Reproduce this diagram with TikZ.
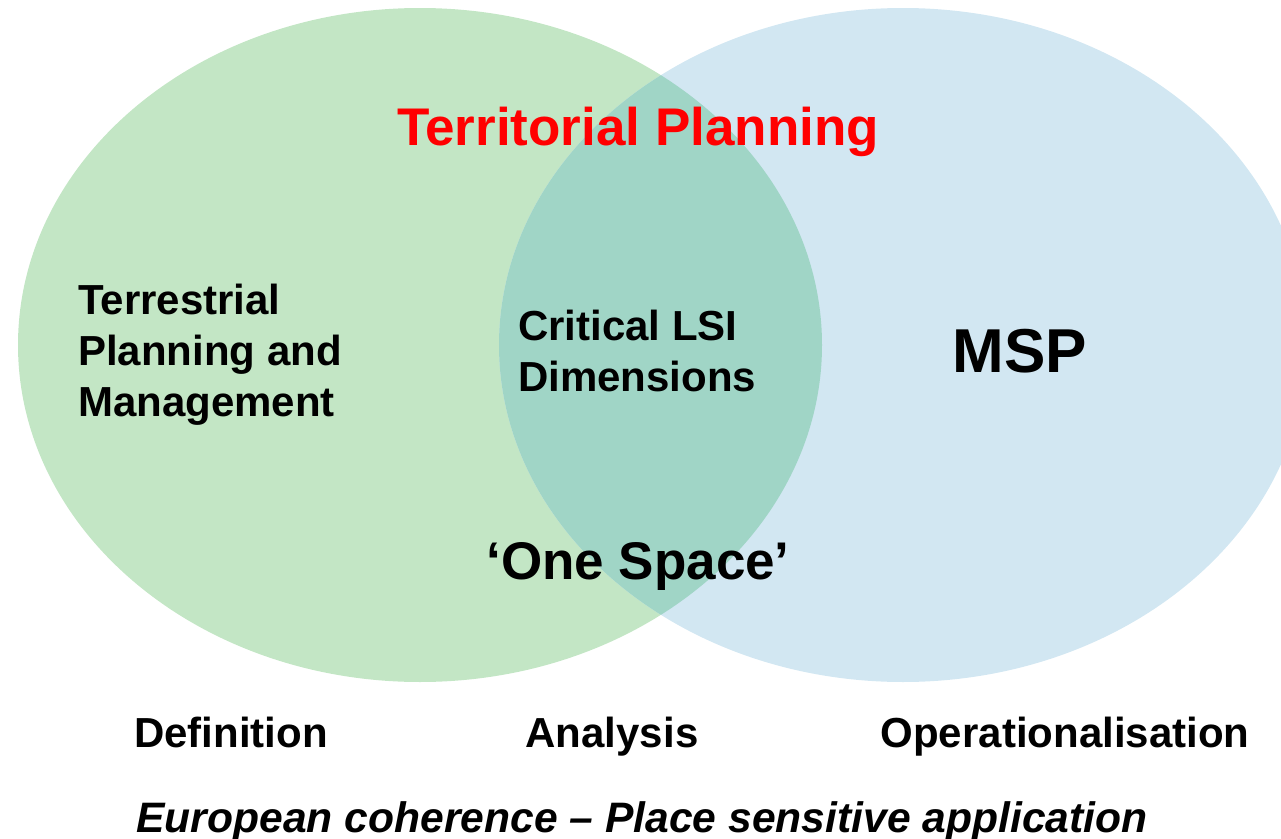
\documentclass[tikz,border=0pt]{standalone}
\usepackage{fontspec}
\setmainfont{Liberation Sans}
\definecolor{landgreen}{HTML}{C3E6C5}
\definecolor{seablue}{HTML}{D2E7F2}
\definecolor{overlapteal}{HTML}{A0D5C6}
\definecolor{titlered}{HTML}{FF0000}
\tikzset{
  lbl/.style={inner sep=0pt, font=\bfseries\fontsize{42bp}{51bp}\selectfont},
  biglbl/.style={inner sep=0pt, font=\bfseries\fontsize{53bp}{64bp}\selectfont},
}
\begin{document}
\begin{tikzpicture}[x=1bp, y=-1bp]
  \useasboundingbox (0,0) rectangle (1281,839);
  \begin{scope}
    \clip (0,0) rectangle (1281,839);
    % the two planning domains
    \fill[landgreen] (420,345) ellipse [x radius=402, y radius=337];
    \fill[seablue] (903,345) ellipse [x radius=404, y radius=337];
    % shared land-sea interface
    \begin{scope}
      \clip (420,345) ellipse [x radius=402, y radius=337];
      \fill[overlapteal] (903,345) ellipse [x radius=404, y radius=337];
    \end{scope}
  \end{scope}

  \node[biglbl, text=titlered, anchor=base] (tp) at (638,145) {Territorial Planning};
  \node[lbl, anchor=base west, align=left] (terr) at (78,416) {Terrestrial\\Planning and\\Management};
  \node[lbl, anchor=base west, align=left] (lsi) at (518,391) {Critical LSI\\Dimensions};
  \node[inner sep=0pt, font=\bfseries\fontsize{62bp}{74bp}\selectfont, anchor=base] (msp) at (1020,372) {MSP};
  \node[biglbl, anchor=base] (one) at (638,579) {‘One Space’};

  \node[lbl, anchor=base] (def) at (231,747) {Definition};
  \node[lbl, anchor=base] (ana) at (612,747) {Analysis};
  \node[lbl, anchor=base] (ope) at (1065,747) {Operationalisation};
  \node[lbl, font=\bfseries\itshape\fontsize{42.6bp}{51bp}\selectfont, anchor=base] (eu) at (642,832) {European coherence – Place sensitive application};
\end{tikzpicture}
\end{document}
